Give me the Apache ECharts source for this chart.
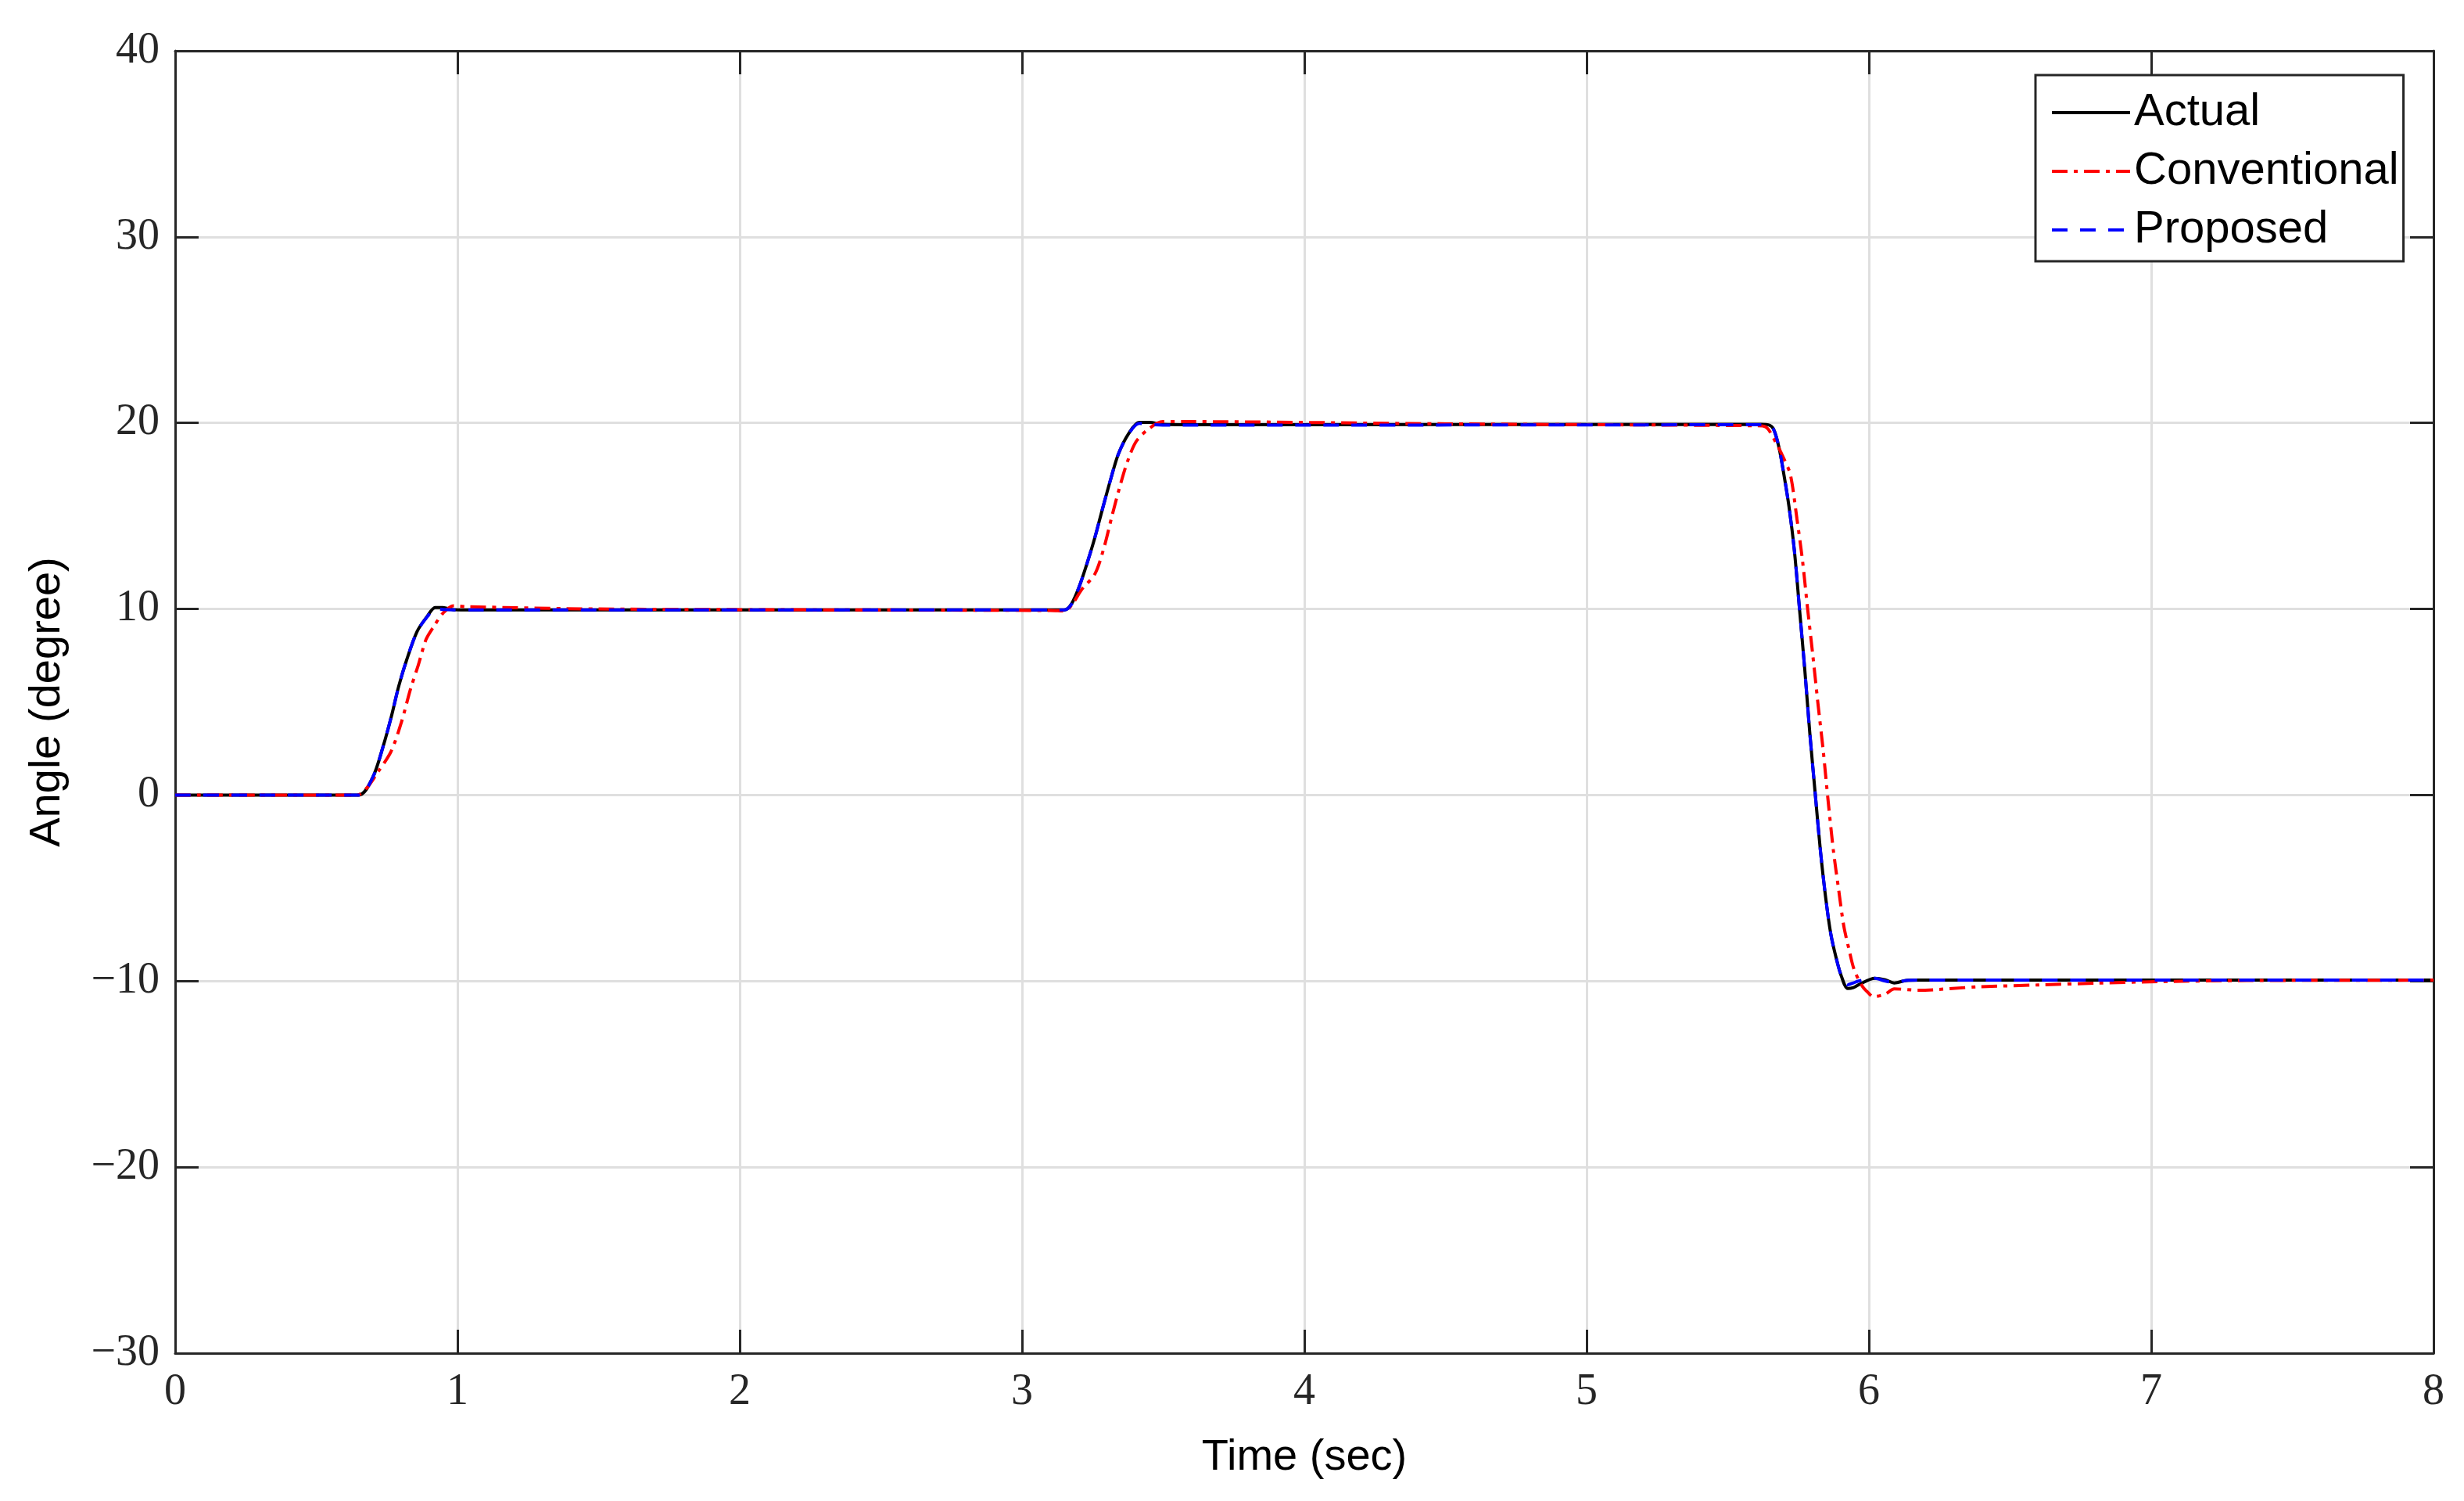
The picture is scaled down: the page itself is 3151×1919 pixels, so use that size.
<!DOCTYPE html>
<html>
<head>
<meta charset="utf-8">
<script src="https://cdn.jsdelivr.net/npm/echarts@6/dist/echarts.min.js"></script>
<style>html,body{margin:0;padding:0;background:#fff}#c{width:3151px;height:1919px}</style>
</head>
<body>
<div id="c"></div>
<script>
// ---- data ----
const timeActual = [0, 0.65, 0.70, 0.737, 0.765, 0.792, 0.82, 0.857, 0.894, 0.921, 0.949, 0.986, 1.05,
  3.15, 3.175, 3.202, 3.23, 3.258, 3.285, 3.313, 3.341, 3.378, 3.415, 3.452, 3.498, 3.6,
  5.62, 5.644, 5.662, 5.681, 5.699, 5.717, 5.736, 5.754, 5.773, 5.791, 5.81, 5.828, 5.847, 5.865, 5.884, 5.902,
  5.925, 5.945, 5.963, 6.021, 6.058, 6.09, 6.132, 6.175, 8];
const angleActual = [0, 0, 0.95, 2.63, 4.17, 5.85, 7.26, 8.79, 9.63, 10.08, 10.08, 9.96, 9.95,
  9.95, 10.27, 11.18, 12.44, 13.84, 15.38, 16.92, 18.32, 19.44, 20.03, 20.03, 19.92, 19.9,
  19.92, 19.9, 19.68, 18.71, 17.21, 15.49, 13.13, 10.02, 6.70, 3.26, 0.04, -2.96, -5.54, -7.47, -8.76, -9.72,
  -10.4, -10.35, -10.2, -9.85, -9.93, -10.1, -9.97, -9.95, -9.95];

const timeProposed = [0, 0.65, 0.70, 0.737, 0.765, 0.792, 0.82, 0.857, 0.894, 0.921, 0.949, 0.986, 1.05,
  3.15, 3.175, 3.202, 3.23, 3.258, 3.285, 3.313, 3.341, 3.378, 3.415, 3.452, 3.498, 3.6,
  5.62, 5.644, 5.662, 5.681, 5.699, 5.717, 5.736, 5.754, 5.773, 5.791, 5.81, 5.828, 5.847, 5.865, 5.884, 5.902,
  5.925, 5.945, 5.963, 6.021, 6.058, 6.09, 6.132, 6.175, 8];
const angleProposed = [0, 0, 0.95, 2.63, 4.17, 5.85, 7.26, 8.79, 9.6, 10.02, 9.97, 9.95, 9.95,
  9.95, 10.25, 11.18, 12.44, 13.84, 15.38, 16.92, 18.32, 19.42, 19.98, 19.92, 19.88, 19.88,
  19.9, 19.88, 19.66, 18.71, 17.21, 15.49, 13.13, 10.02, 6.70, 3.26, 0.04, -2.96, -5.54, -7.47, -8.76, -9.7,
  -10.2, -10.1, -10.0, -9.85, -10.0, -10.08, -9.97, -9.95, -9.95];

const timeConventional = [0, 0.645, 0.68, 0.718, 0.765, 0.801, 0.834, 0.861, 0.889, 0.917, 0.949, 0.986, 1.04, 1.5,
  3.1, 3.152, 3.18, 3.211, 3.258, 3.29, 3.318, 3.345, 3.373, 3.405, 3.452, 3.498, 3.572, 4.5,
  5.6, 5.634, 5.671, 5.699, 5.722, 5.745, 5.764, 5.782, 5.801, 5.819, 5.838, 5.856, 5.874, 5.893, 5.911, 5.93,
  5.948, 5.976, 5.995, 6.016, 6.058, 6.09, 6.175, 6.387, 6.599, 6.811, 7.023, 7.34, 8];
const angleConventional = [0, 0, 0.4, 1.23, 2.35, 3.89, 5.71, 6.97, 8.37, 9.08, 9.78, 10.17, 10.12, 10.0,
  9.92, 9.9, 10.3, 11.04, 11.88, 13.28, 14.96, 16.5, 17.9, 19.02, 19.72, 20.07, 20.07, 19.95,
  19.85, 19.79, 18.93, 18.07, 17.21, 14.85, 12.70, 10.13, 7.55, 4.98, 2.40, -0.39, -2.96, -5.11, -7.04, -8.33,
  -9.40, -10.26, -10.59, -10.84, -10.70, -10.42, -10.49, -10.31, -10.21, -10.11, -10.03, -9.97, -9.95];

const seriesNames = ['Actual', 'Conventional', 'Proposed'];
const xTicks = {min: 0, max: 8, interval: 1};
const yTicks = {min: -30, max: 40, interval: 10};

// ---- chart ----
const zip = (a, b) => a.map((t, i) => [t, b[i]]);
const axisColor = '#262626';
const tickFont = {fontFamily: 'Liberation Serif', fontSize: 56, color: axisColor};
const fmt = v => (v < 0 ? '\u2212' + Math.abs(v) : String(v));

const chart = echarts.init(document.getElementById('c'), null, {renderer: 'canvas'});
const baseAxis = {
  axisLine: {show: true, onZero: false, lineStyle: {color: axisColor, width: 3}},
  axisTick: {show: true, inside: true, length: 30, lineStyle: {color: axisColor, width: 3}},
};
chart.setOption({
  animation: false,
  backgroundColor: '#fff',
  grid: {left: 224, right: 39, top: 65, bottom: 189, containLabel: false},
  legend: {
    orient: 'vertical', left: 2603, top: 96,
    padding: [19, 6, 11, 19],
    borderColor: axisColor, borderWidth: 3, backgroundColor: '#fff',
    itemWidth: 100, itemHeight: 4, itemGap: 17,
    itemStyle: {opacity: 0},
    lineStyle: {width: 4},
    textStyle: {fontFamily: 'Liberation Sans', fontSize: 58, lineHeight: 58, color: '#000', padding: [0, 0, 0, 0]},
    data: seriesNames
  },
  xAxis: [
    Object.assign({}, baseAxis, {
      type: 'value', position: 'bottom', min: xTicks.min, max: xTicks.max, interval: xTicks.interval,
      name: 'Time (sec)', nameLocation: 'middle', nameGap: 106,
      nameTextStyle: {fontFamily: 'Liberation Sans', fontSize: 56, color: '#000'},
      axisLabel: Object.assign({margin: 22, formatter: fmt}, tickFont),
      splitLine: {show: true, lineStyle: {color: '#dfdfdf', width: 3}}
    }),
    Object.assign({}, baseAxis, {
      type: 'value', position: 'top', min: xTicks.min, max: xTicks.max, interval: xTicks.interval,
      axisLabel: {show: false}, splitLine: {show: false}
    })
  ],
  yAxis: [
    Object.assign({}, baseAxis, {
      type: 'value', position: 'left', min: yTicks.min, max: yTicks.max, interval: yTicks.interval,
      name: 'Angle (degree)', nameLocation: 'middle', nameGap: 135,
      nameTextStyle: {fontFamily: 'Liberation Sans', fontSize: 56, color: '#000'},
      axisLabel: Object.assign({margin: 20, formatter: fmt}, tickFont),
      splitLine: {show: true, lineStyle: {color: '#dfdfdf', width: 3}}
    }),
    Object.assign({}, baseAxis, {
      type: 'value', position: 'right', min: yTicks.min, max: yTicks.max, interval: yTicks.interval,
      axisLabel: {show: false}, splitLine: {show: false}
    })
  ],
  series: [
    {name: 'Actual', type: 'line', xAxisIndex: 0, yAxisIndex: 0, symbol: 'none', smooth: 0.3,
     data: zip(timeActual, angleActual), lineStyle: {color: '#000', width: 4}, itemStyle: {color: '#000'}, z: 2},
    {name: 'Conventional', type: 'line', xAxisIndex: 0, yAxisIndex: 0, symbol: 'none', smooth: 0.3,
     data: zip(timeConventional, angleConventional),
     lineStyle: {color: '#ff0000', width: 4, type: [20, 8, 5, 8]}, itemStyle: {color: '#ff0000'}, z: 3},
    {name: 'Proposed', type: 'line', xAxisIndex: 0, yAxisIndex: 0, symbol: 'none', smooth: 0.3,
     data: zip(timeProposed, angleProposed),
     lineStyle: {color: '#0000ff', width: 4, type: [20, 16]}, itemStyle: {color: '#0000ff'}, z: 4}
  ]
});
</script>
</body>
</html>
